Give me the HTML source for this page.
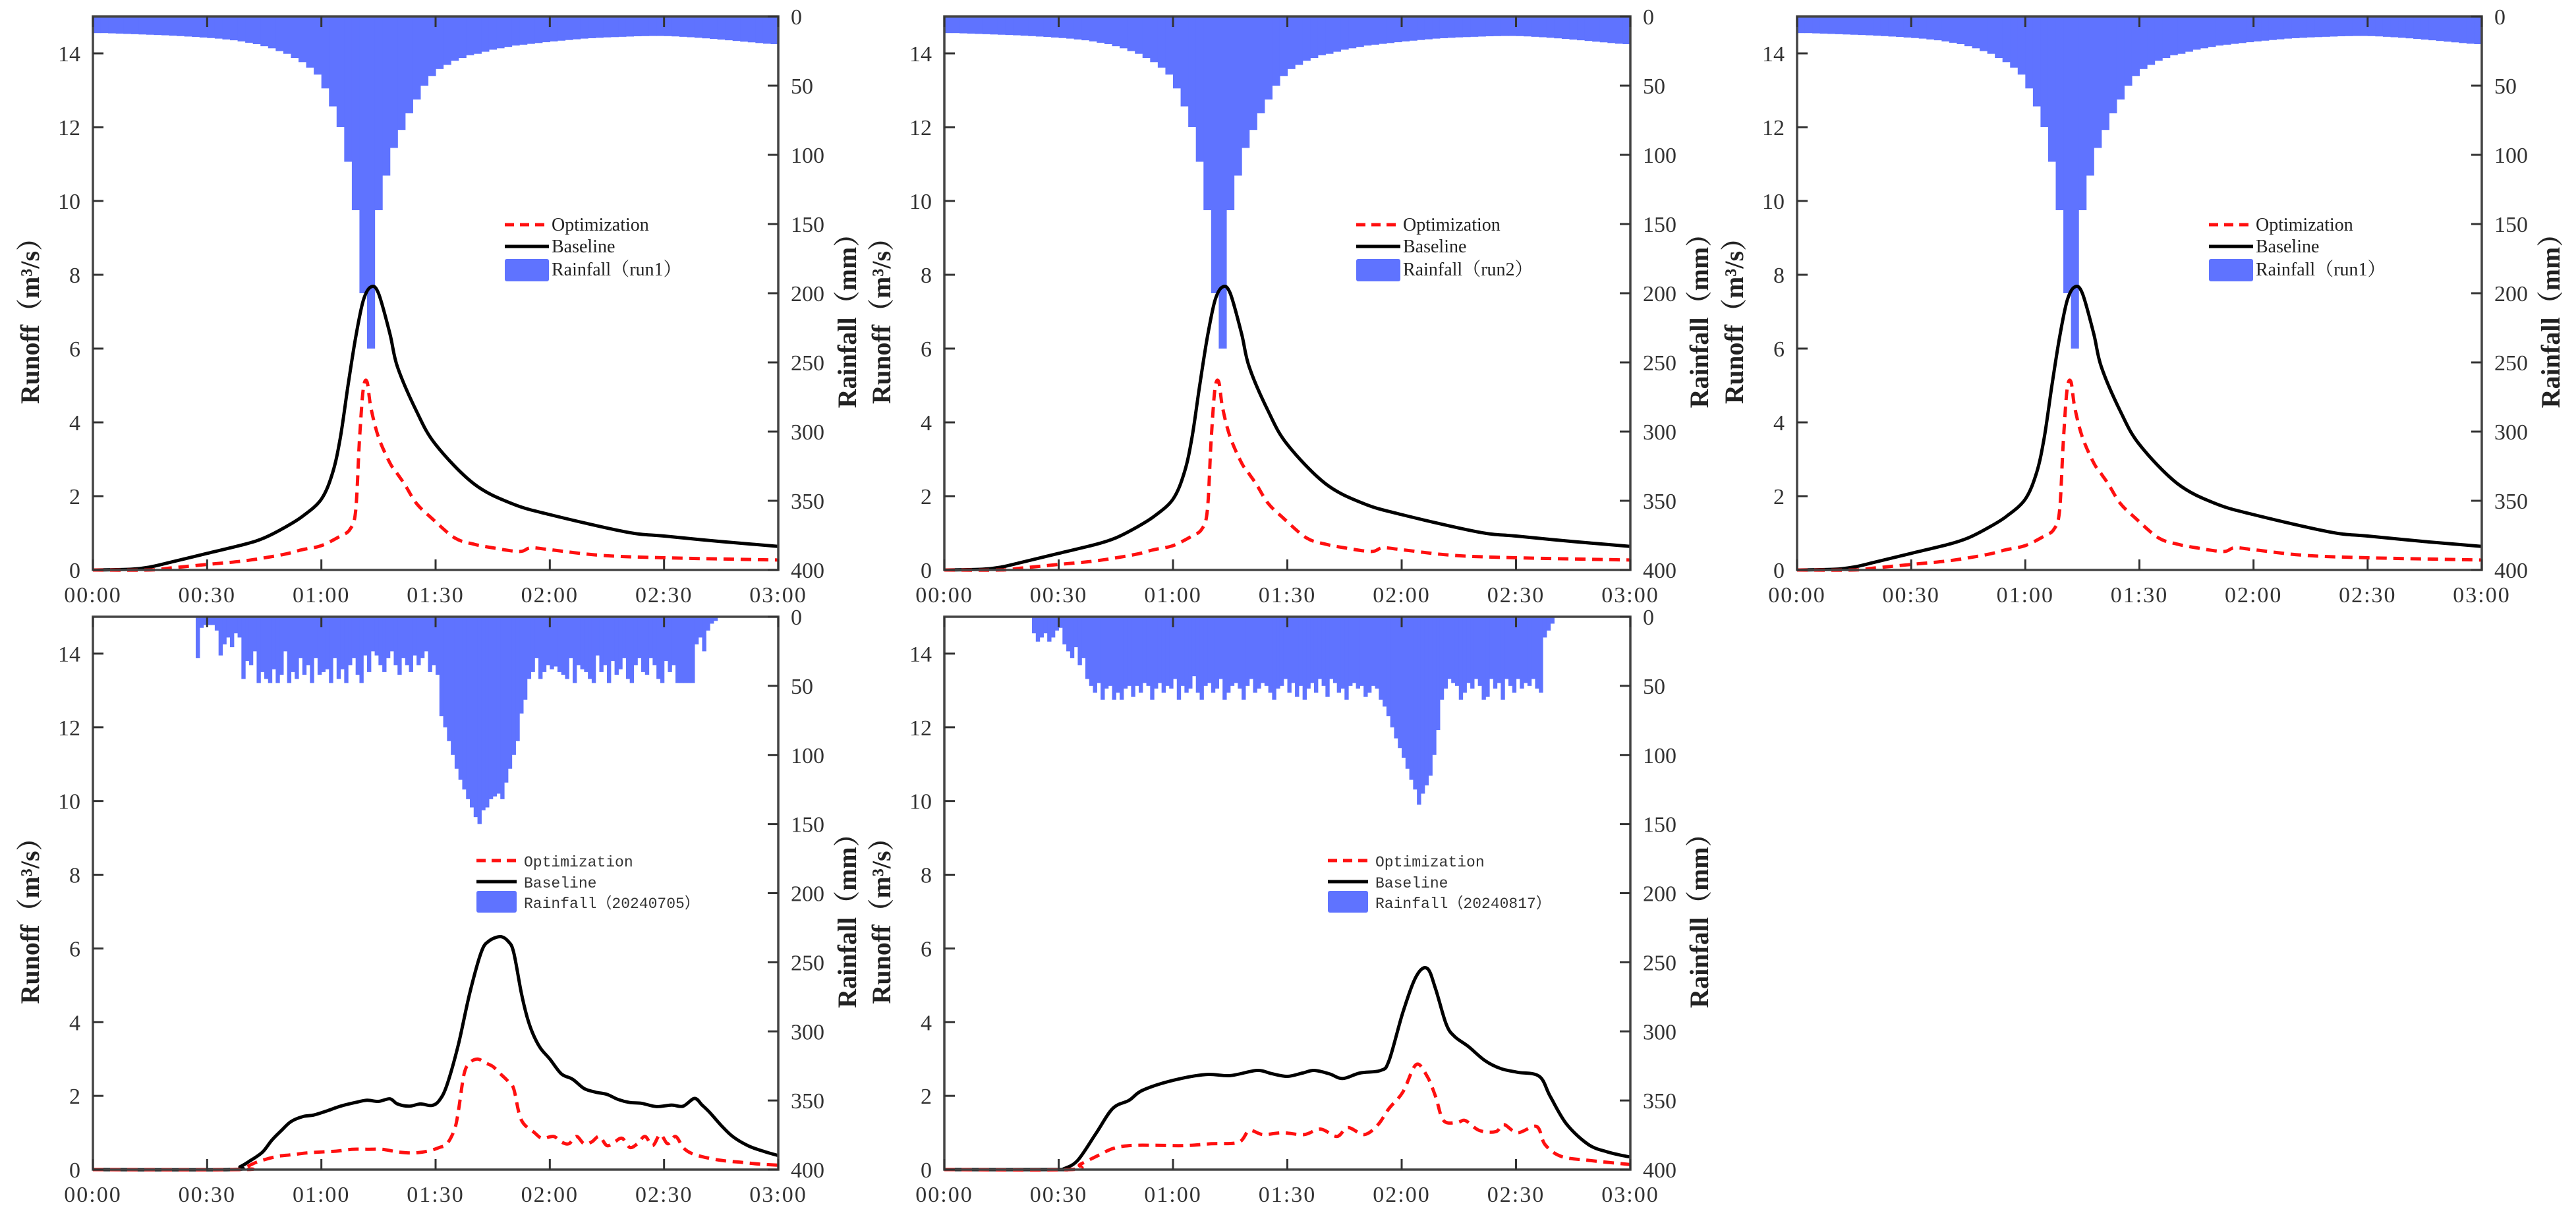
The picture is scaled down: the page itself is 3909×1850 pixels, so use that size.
<!DOCTYPE html>
<html><head><meta charset="utf-8"><style>
html,body{margin:0;padding:0;background:#fff;}
svg{display:block;}
.tk{font-family:"Liberation Serif","Noto Serif CJK SC",serif;font-size:34px;fill:#333;}
.ttl{font-family:"Liberation Serif","Noto Serif CJK SC",serif;font-size:40px;font-weight:bold;fill:#222;}
.lg{font-family:"Liberation Serif","Noto Serif CJK SC",serif;font-size:28px;fill:#222;}
.lgm{font-family:"Liberation Mono","Noto Sans CJK SC",monospace;font-size:23px;fill:#333;}
</style></head><body>
<svg id="fig" xmlns="http://www.w3.org/2000/svg" width="3909" height="1850" viewBox="0 0 3909 1850"></svg>
<script>
// ---- shared axis data ----
const xTickMin = [0,30,60,90,120,150,180];
const xTickLabels = ["00:00","00:30","01:00","01:30","02:00","02:30","03:00"];
const yLeftTicks = [0,2,4,6,8,10,12,14];
const yRightTicks = [0,50,100,150,200,250,300,350,400];

// ---- design storm (run1 / run2), 2-min bars starting at 0 ----
const designRainStart = 0;
const designRainStep = 2;
const designRain = [12,12,12.2,12.4,12.6,12.8,13,13.2,13.4,13.6,13.9,14.2,14.5,14.8,15.2,15.6,16,16.6,17.2,18,19,20,21.5,23,25,27,30,33,37,42,52,65,80,105,140,200,
240,140,115,95,82,70,60,50,43,38,35,32,30,28,27,25.5,24,23,22,21,20.4,19.8,19.2,18.6,18,17.5,17,16.5,16,15.7,15.4,15.1,14.9,14.7,14.5,14.3,14.2,14.1,14.1,14.2,14.4,14.7,15,15.4,15.8,16.2,16.7,17.2,17.7,18.2,18.7,19.2,19.7,20];
const designBaseT = [0,10,15,20,30,40,45,50,55,60,63,65,67,69,71,73,75,78,80,85,90,100,110,120,140,150,165,180];
const designBaseV = [0,0.02,0.08,0.2,0.45,0.7,0.87,1.13,1.45,1.92,2.65,3.6,5.0,6.3,7.3,7.67,7.5,6.4,5.5,4.3,3.4,2.34,1.8,1.5,1.03,0.92,0.77,0.64];
const designOptT = [0,15,20,30,40,50,55,60,65,67.5,69,70,71,72,73,75,78,80,82,85,89,95,100,105,112,115,120,133,150,180];
const designOptV = [0,0,0.05,0.15,0.25,0.42,0.55,0.66,0.92,1.1,1.6,3.5,4.9,5.1,4.4,3.6,2.9,2.6,2.3,1.8,1.4,0.87,0.7,0.6,0.5,0.6,0.55,0.4,0.33,0.27];

// ---- event 20240705, 1-min bars starting at 27 ----
const rainA_Start = 27;
const rainA_Step = 1;
const rainA = [30,8,6,6,6,10,28,20,15,22,12,15,45,32,35,25,48,40,45,48,38,48,42,25,48,40,45,30,42,35,48,30,42,40,38,48,30,45,38,48,35,30,42,48,28,40,25,28,35,40,30,25,35,42,30,35,40,28,35,30,25,40,35,42,
72,80,90,100,110,118,125,132,138,145,150,140,138,132,130,128,132,120,110,100,90,70,60,45,40,30,45,40,35,38,36,40,42,45,30,48,35,38,40,45,48,28,40,35,48,32,42,38,30,45,48,35,30,40,42,30,35,45,48,32,40,35,48,48,48,48,48,20,15,25,10,5,3];
const baseA_T = [0,36,38.7,41,44.5,47,49.5,52,55.2,58,61.7,65,68.9,72,75,78,80,83,86,89,91,93,96,99,102,104,107,109,110.5,112.5,114,115.5,117.5,120,123,126,129,132,135,138,141,144,148,152,155,158,160,162,165,168,172,176,180];
const baseA_V = [0,0,0.08,0.22,0.47,0.8,1.06,1.3,1.44,1.48,1.6,1.72,1.82,1.88,1.85,1.92,1.78,1.72,1.78,1.74,1.88,2.3,3.4,4.8,5.9,6.2,6.32,6.2,5.9,4.8,4.15,3.7,3.3,3.0,2.6,2.45,2.2,2.1,2.04,1.9,1.82,1.8,1.71,1.75,1.72,1.93,1.75,1.55,1.2,0.9,0.65,0.5,0.38];
const optA_T = [0,39,40,43,48,52,56,60,64,68,72,76,80,84,88,91,93,95,96,97.5,99,101,103,105,107,109,110.5,112.5,116,118,121,123,125,127,129,131,133,135,137,139,141,143,145,147,149,151,153,155,157,160,165,170,175,180];
const optA_V = [0,0,0.05,0.2,0.35,0.4,0.45,0.48,0.5,0.55,0.55,0.55,0.48,0.45,0.5,0.6,0.7,1.1,1.6,2.6,2.9,3.0,2.9,2.8,2.6,2.4,2.2,1.35,1.0,0.85,0.9,0.75,0.7,0.9,0.7,0.75,0.9,0.65,0.75,0.85,0.6,0.7,0.9,0.65,0.95,0.7,0.9,0.6,0.45,0.35,0.25,0.2,0.15,0.12];

// ---- event 20240817, 1-min bars starting at 23 ----
const rainB_Start = 23;
const rainB_Step = 1;
const rainB = [12,18,15,12,18,15,10,8,20,25,30,22,35,30,45,50,55,48,60,52,50,60,55,60,52,50,58,50,55,48,50,60,52,48,55,50,52,45,60,50,55,52,43,55,60,50,48,55,52,45,60,55,50,48,52,60,50,45,55,52,48,50,55,60,52,50,45,55,48,58,50,60,52,48,55,45,50,58,45,48,55,52,60,50,48,52,50,58,55,50,52,60,
65,72,80,88,95,102,110,118,125,136,128,122,115,100,82,60,52,45,48,50,60,55,48,52,45,50,60,58,45,52,48,60,45,50,55,45,52,48,50,45,52,55,15,10,5];
const baseB_T = [0,30,31.3,35,39.9,44.2,48.5,52,60,68.6,75,82,86,90,94,97,101,104.5,109,114.5,116.7,120.3,123.8,126.7,128.9,131.7,133.9,137.5,141.8,146,150.4,156.1,159,163.3,169,174,179,180];
const baseB_V = [0,0,0.02,0.25,1.0,1.66,1.88,2.15,2.42,2.58,2.55,2.69,2.6,2.53,2.62,2.69,2.6,2.47,2.62,2.69,2.96,4.26,5.24,5.46,4.9,3.94,3.61,3.34,2.96,2.74,2.64,2.53,1.98,1.23,0.68,0.48,0.36,0.35];
const optB_T = [0,33,35.6,39.9,44.2,48.5,55,62.8,70,77.2,80,83.6,88.7,94.4,98.7,103,105.9,110.2,113.8,116.7,120.3,123.8,126.7,128.9,131,134.6,136.7,140.4,144.7,146.8,150.4,155.4,157.6,161.8,169,179.8,180];
const optB_V = [0,0,0.14,0.36,0.57,0.65,0.66,0.65,0.7,0.74,1.06,0.95,1.0,0.95,1.1,0.9,1.14,0.95,1.22,1.66,2.1,2.85,2.53,1.98,1.33,1.28,1.33,1.06,1.03,1.22,1.0,1.17,0.68,0.36,0.25,0.14,0.14];

const NS = "http://www.w3.org/2000/svg";
const svg = document.getElementById('fig');
function mk(tag, attrs, parent){ const e=document.createElementNS(NS,tag); for(const k in attrs) e.setAttribute(k,attrs[k]); (parent||svg).appendChild(e); return e; }
function smoothPath(P){
  let d = 'M'+P[0][0].toFixed(1)+','+P[0][1].toFixed(1);
  for(let i=0;i<P.length-1;i++){
    const p0=P[Math.max(0,i-1)], p1=P[i], p2=P[i+1], p3=P[Math.min(P.length-1,i+2)];
    const c1=[p1[0]+(p2[0]-p0[0])/6, p1[1]+(p2[1]-p0[1])/6];
    const c2=[p2[0]-(p3[0]-p1[0])/6, p2[1]-(p3[1]-p1[1])/6];
    d+=' C'+c1[0].toFixed(1)+','+c1[1].toFixed(1)+' '+c2[0].toFixed(1)+','+c2[1].toFixed(1)+' '+p2[0].toFixed(1)+','+p2[1].toFixed(1);
  }
  return d;
}

const panels = [
 {id:'run1-top-left', x0:141,y0:25,w:1040,h:840, rain:designRain, rs:designRainStart, rstep:designRainStep, bT:designBaseT,bV:designBaseV,oT:designOptT,oV:designOptV, label:'Rainfall（run1）', mono:false},
 {id:'run2-top-middle', x0:1433,y0:25,w:1041,h:840, rain:designRain, rs:designRainStart, rstep:designRainStep, bT:designBaseT,bV:designBaseV,oT:designOptT,oV:designOptV, label:'Rainfall（run2）', mono:false},
 {id:'run1-top-right', x0:2727,y0:25,w:1039,h:840, rain:designRain, rs:designRainStart, rstep:designRainStep, bT:designBaseT,bV:designBaseV,oT:designOptT,oV:designOptV, label:'Rainfall（run1）', mono:false},
 {id:'event-20240705', x0:141,y0:936,w:1040,h:839, rain:rainA, rs:rainA_Start, rstep:rainA_Step, bT:baseA_T,bV:baseA_V,oT:optA_T,oV:optA_V, label:'Rainfall（20240705）', mono:true},
 {id:'event-20240817', x0:1433,y0:936,w:1041,h:839, rain:rainB, rs:rainB_Start, rstep:rainB_Step, bT:baseB_T,bV:baseB_V,oT:optB_T,oV:optB_V, label:'Rainfall（20240817）', mono:true}
];

panels.forEach(p=>{
  const g = mk('g',{});
  
  
  const X = t => p.x0 + t/180*p.w;
  const YL = v => p.y0 + p.h - v/15*p.h;
  const YR = mm => p.y0 + mm/400*p.h;
  const rg = mk('g',{fill:'#5f73ff'},g);
  
  
  p.rain.forEach((v,i)=>{
    const t0 = p.rs + i*p.rstep, t1 = t0 + p.rstep;
    const r = mk('rect',{x:X(t0).toFixed(2), y:p.y0, width:(X(t1)-X(t0)+0.6).toFixed(2), height:(YR(v)-p.y0).toFixed(2)}, rg);
    
    
  });
  const pts = (T,V)=>T.map((t,i)=>[X(t),YL(V[i])]);
  const bl = mk('path',{d:smoothPath(pts(p.bT,p.bV)), fill:'none', stroke:'#000', 'stroke-width':5, 'stroke-linejoin':'round'}, g);
  
  
  const ol = mk('path',{d:smoothPath(pts(p.oT,p.oV)), fill:'none', stroke:'#ff1010', 'stroke-width':5, 'stroke-dasharray':'16 10'}, g);
  
  
  const fr = mk('rect',{x:p.x0,y:p.y0,width:p.w,height:p.h,fill:'none',stroke:'#444','stroke-width':3.5}, g);
  
  
  xTickMin.forEach((t,i)=>{
    mk('line',{x1:X(t),x2:X(t),y1:p.y0,y2:p.y0+16,stroke:'#333','stroke-width':3},g);
    mk('line',{x1:X(t),x2:X(t),y1:p.y0+p.h,y2:p.y0+p.h-16,stroke:'#333','stroke-width':3},g);
    const tx = mk('text',{x:X(t),y:p.y0+p.h+49,'text-anchor':'middle',class:'tk','letter-spacing':'2'},g);
    tx.textContent = xTickLabels[i];
    
    
  });
  yLeftTicks.forEach(v=>{
    mk('line',{x1:p.x0,x2:p.x0+16,y1:YL(v),y2:YL(v),stroke:'#333','stroke-width':3},g);
    const tx = mk('text',{x:p.x0-19,y:YL(v)+12,'text-anchor':'end',class:'tk'},g);
    tx.textContent = v;
    
    
  });
  yRightTicks.forEach(v=>{
    mk('line',{x1:p.x0+p.w,x2:p.x0+p.w-16,y1:YR(v),y2:YR(v),stroke:'#333','stroke-width':3},g);
    const tx = mk('text',{x:p.x0+p.w+19,y:YR(v)+12,'text-anchor':'start',class:'tk'},g);
    tx.textContent = v;
    
    
  });
  const cy = p.y0 + p.h/2 + 32;
  const lt = mk('text',{x:0,y:0,class:'ttl','text-anchor':'middle',transform:`translate(${p.x0-82},${cy}) rotate(-90)`},g);
  lt.textContent = 'Runoff（m³/s）';
  
  
  const rt = mk('text',{x:0,y:0,class:'ttl','text-anchor':'middle',transform:`translate(${p.x0+p.w+118},${cy}) rotate(-90)`},g);
  rt.textContent = 'Rainfall（mm）';
  
  
  const lg = mk('g',{},g);
  
  
  let lx0,lx1,tx0,rows,patch,cls;
  if(!p.mono){ lx0=p.x0+625; lx1=p.x0+692; tx0=p.x0+696; rows=[p.y0+325,p.y0+358,p.y0+393]; patch=[p.y0+368,p.y0+402]; cls='lg'; }
  else { lx0=p.x0+582; lx1=p.x0+643; tx0=p.x0+654; rows=[p.y0+379,p.y0+411,p.y0+442]; patch=[p.y0+416,p.y0+449]; cls='lgm'; }
  mk('line',{x1:lx0,x2:lx1,y1:rows[0]-9,y2:rows[0]-9,stroke:'#ff1010','stroke-width':5,'stroke-dasharray':'14 9'},lg);
  mk('line',{x1:lx0,x2:lx1,y1:rows[1]-9,y2:rows[1]-9,stroke:'#000','stroke-width':5},lg);
  mk('rect',{x:lx0,y:patch[0],width:lx1-lx0,height:patch[1]-patch[0],fill:'#5f73ff',rx:3},lg);
  ['Optimization','Baseline',p.label].forEach((s,i)=>{
    const t = mk('text',{x:tx0,y:rows[i],class:cls},lg);
    t.textContent = s;
    
    
  });
});
</script>
</body></html>
